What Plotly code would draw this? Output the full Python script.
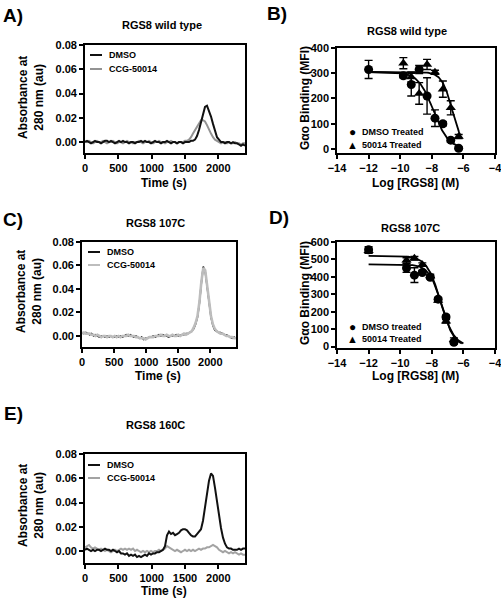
import numpy as np
import plotly.graph_objects as go

# ---------------- data ----------------
time_s = list(range(0, 2401, 30))

a_dmso = [0.000, 0.001, 0.000, -0.001, 0.000, 0.001, 0.000, 0.000, -0.001, 0.000,
          0.001, 0.001, 0.000, 0.001, 0.000, -0.001, 0.000, 0.001, 0.000, 0.001,
          0.000, 0.000, -0.001, 0.000, 0.000, -0.001, 0.000, 0.000, 0.001, 0.000,
          0.001, 0.000, 0.000, -0.001, 0.000, 0.001, 0.000, 0.000, -0.001, 0.000,
          0.000, 0.001, 0.000, -0.001, 0.000, 0.000, -0.001, 0.000, 0.000, -0.001,
          0.000, 0.000, 0.000, 0.001, 0.001, 0.002, 0.005, 0.010, 0.017, 0.024,
          0.029, 0.030, 0.026, 0.021, 0.015, 0.009, 0.004, 0.002, 0.000, 0.000,
          -0.001, 0.000, 0.000, -0.001, 0.000, -0.001, -0.001, -0.002, -0.003, -0.002,
          -0.003]
a_ccg = [0.001, 0.000, 0.001, 0.000, -0.001, 0.000, 0.001, 0.000, 0.000, 0.001,
         0.000, -0.001, 0.000, 0.000, 0.001, 0.000, -0.001, 0.000, 0.000, -0.001,
         0.000, 0.001, 0.000, 0.000, -0.001, 0.000, 0.000, 0.001, 0.000, -0.001,
         0.000, 0.000, 0.001, 0.000, -0.001, 0.000, 0.000, 0.001, 0.000, 0.000,
         -0.001, 0.000, 0.000, 0.001, 0.000, 0.000, -0.001, 0.000, 0.000, 0.000,
         0.001, 0.001, 0.002, 0.004, 0.007, 0.010, 0.013, 0.016, 0.018, 0.018,
         0.017, 0.014, 0.010, 0.007, 0.004, 0.002, 0.001, 0.000, -0.001, 0.000,
         0.000, -0.001, 0.000, -0.001, -0.001, 0.000, -0.001, -0.001, -0.002, -0.001,
         -0.001]

c_dmso = [0.003, 0.002, 0.003, 0.002, 0.001, 0.002, 0.000, 0.001, 0.000, -0.001,
          0.000, 0.000, -0.001, 0.000, -0.001, 0.000, -0.001, -0.001, 0.000, -0.001,
          0.000, -0.001, 0.000, 0.001, 0.000, 0.001, 0.000, -0.001, 0.000, -0.001,
          -0.002, -0.001, -0.003, -0.002, -0.002, -0.001, -0.001, 0.000, -0.001, 0.000,
          0.001, 0.000, 0.001, 0.000, 0.000, -0.001, 0.000, 0.000, 0.000, 0.001,
          0.000, 0.001, 0.001, 0.001, 0.002, 0.002, 0.003, 0.004, 0.006, 0.010,
          0.016, 0.028, 0.045, 0.059, 0.055, 0.041, 0.027, 0.016, 0.009, 0.005,
          0.004, 0.003, 0.003, 0.002, 0.001, 0.001, 0.000, -0.001, -0.002, -0.001,
          -0.002]
c_ccg = [0.002, 0.003, 0.002, 0.002, 0.002, 0.001, 0.001, 0.000, 0.001, 0.000,
         -0.001, 0.000, 0.000, -0.001, 0.000, 0.000, -0.001, 0.000, -0.001, 0.000,
         -0.001, 0.000, 0.000, 0.000, 0.001, 0.000, 0.000, 0.000, -0.001, -0.001,
         -0.002, -0.002, -0.002, -0.003, -0.002, -0.001, -0.001, -0.001, 0.000, 0.000,
         0.000, 0.001, 0.000, 0.000, 0.001, 0.000, 0.000, 0.001, 0.000, 0.000,
         0.001, 0.000, 0.001, 0.002, 0.001, 0.002, 0.003, 0.004, 0.007, 0.011,
         0.017, 0.029, 0.046, 0.058, 0.056, 0.042, 0.028, 0.017, 0.010, 0.006,
         0.004, 0.003, 0.002, 0.002, 0.001, 0.000, 0.000, -0.001, -0.001, -0.002,
         -0.002]

e_dmso = [0.001, 0.002, 0.001, 0.000, 0.001, 0.000, 0.001, 0.001, 0.000, 0.001,
          0.002, 0.001, 0.001, 0.000, 0.001, 0.000, -0.001, 0.000, -0.002, -0.002,
          -0.003, -0.002, -0.004, -0.003, -0.004, -0.003, -0.005, -0.004, -0.005, -0.004,
          -0.003, -0.004, -0.002, -0.003, -0.002, -0.002, -0.001, -0.001, 0.000, 0.001,
          0.004, 0.013, 0.016, 0.014, 0.015, 0.013, 0.014, 0.015, 0.017, 0.018,
          0.018, 0.017, 0.015, 0.013, 0.012, 0.012, 0.014, 0.016, 0.018, 0.025,
          0.035, 0.047, 0.058, 0.064, 0.062, 0.052, 0.040, 0.030, 0.019, 0.011,
          0.006, 0.003, 0.002, 0.002, 0.001, 0.001, 0.001, 0.002, 0.001, 0.002,
          0.002]
e_ccg = [0.003, 0.004, 0.005, 0.003, 0.002, 0.003, 0.002, 0.001, 0.002, 0.001,
         0.000, 0.001, 0.000, -0.001, 0.000, 0.001, 0.000, 0.001, 0.002, 0.001,
         0.002, 0.001, 0.002, 0.001, 0.002, 0.000, 0.001, 0.000, -0.001, 0.000,
         -0.001, 0.000, -0.001, 0.000, -0.001, 0.000, 0.000, 0.001, 0.000, 0.001,
         0.002, 0.004, 0.003, 0.002, 0.001, 0.000, 0.001, 0.000, -0.001, 0.000,
         0.001, 0.000, 0.001, 0.000, 0.001, 0.000, 0.001, 0.002, 0.001, 0.002,
         0.002, 0.003, 0.003, 0.004, 0.005, 0.004, 0.003, 0.001, 0.000, -0.001,
         0.000, -0.001, -0.002, -0.001, -0.002, -0.001, -0.002, -0.003, -0.002, -0.003,
         -0.003]

# Panel B: RGS8 wild type binding
b_dmso_logc = [-12, -9.8, -9.3, -8.8, -8.3, -7.8, -7.3, -6.8, -6.3]
b_dmso_mfi = [315, 290, 255, 315, 210, 122, 100, 35, 3]
b_dmso_err = [36, 8, 45, 16, 72, 33, 8, 8, 5]
b_cmpd_logc = [-9.8, -9.3, -8.8, -8.3, -7.8, -7.3, -6.8, -6.3]
b_cmpd_mfi = [340, 285, 220, 335, 304, 237, 163, 49]
b_cmpd_err = [22, 20, 43, 20, 8, 32, 28, 8]
b_dmso_fit = [305, 0, -7.9, 0.9]      # top, bottom, logIC50, hill
b_cmpd_fit = [305, 0, -6.7, 1.3]

# Panel D: RGS8 107C binding
d_dmso_logc = [-12, -9.6, -9.1, -8.6, -8.1, -7.6, -7.1, -6.6]
d_dmso_mfi = [555, 451, 410, 425, 398, 272, 170, 25]
d_dmso_err = [18, 25, 42, 10, 10, 10, 10, 10]
d_cmpd_logc = [-12, -9.6, -9.1, -8.6, -8.1, -7.6, -7.1, -6.6]
d_cmpd_mfi = [550, 495, 507, 470, 405, 265, 145, 40]
d_cmpd_err = [15, 15, 10, 10, 10, 10, 10, 10]
d_dmso_fit = [472, 0, -7.38, 1.1]
d_cmpd_fit = [520, 0, -7.45, 1.0]

FONT = "Arial, 'Liberation Sans', sans-serif"
W, H = 501, 600


def fit_curve(params, lo, hi):
    top, bottom, logic50, hill = params
    xs = np.linspace(lo, hi, 200)
    return xs, bottom + (top - bottom) / (1 + 10 ** ((xs - logic50) * hill))


fig = go.Figure()

# --- chromatograms ---
for xa, ya, d, c, gcol, gw, bw in [("x", "y", a_dmso, a_ccg, "#939393", 2.0, 2.0),
                                   ("x3", "y3", c_dmso, c_ccg, "#bdbdbd", 2.6, 1.6),
                                   ("x5", "y5", e_dmso, e_ccg, "#a3a3a3", 2.0, 2.0)]:
    if xa == "x3":
        fig.add_trace(go.Scatter(x=time_s, y=d, mode="lines", xaxis=xa, yaxis=ya,
                                 line=dict(color="#111", width=bw)))
        fig.add_trace(go.Scatter(x=time_s, y=c, mode="lines", xaxis=xa, yaxis=ya,
                                 line=dict(color=gcol, width=gw)))
    else:
        fig.add_trace(go.Scatter(x=time_s, y=c, mode="lines", xaxis=xa, yaxis=ya,
                                 line=dict(color=gcol, width=gw)))
        fig.add_trace(go.Scatter(x=time_s, y=d, mode="lines", xaxis=xa, yaxis=ya,
                                 line=dict(color="#111", width=bw)))

# --- dose response ---
for xa, ya, dx, dy, de, cx, cy, ce, dfit, cfit, dend, cend in [
        ("x2", "y2", b_dmso_logc, b_dmso_mfi, b_dmso_err, b_cmpd_logc, b_cmpd_mfi, b_cmpd_err,
         b_dmso_fit, b_cmpd_fit, -6.3, -6.2),
        ("x4", "y4", d_dmso_logc, d_dmso_mfi, d_dmso_err, d_cmpd_logc, d_cmpd_mfi, d_cmpd_err,
         d_dmso_fit, d_cmpd_fit, -6.1, -6.0)]:
    fx, fy = fit_curve(dfit, -12, dend)
    fig.add_trace(go.Scatter(x=fx, y=fy, mode="lines", xaxis=xa, yaxis=ya,
                             line=dict(color="#000", width=1.8)))
    fx, fy = fit_curve(cfit, -12, cend)
    fig.add_trace(go.Scatter(x=fx, y=fy, mode="lines", xaxis=xa, yaxis=ya,
                             line=dict(color="#000", width=1.8)))
    fig.add_trace(go.Scatter(x=cx, y=cy, mode="markers", xaxis=xa, yaxis=ya,
                             marker=dict(symbol="triangle-up", size=9, color="#000"),
                             error_y=dict(type="data", array=ce, color="#000", thickness=1.4, width=4)))
    fig.add_trace(go.Scatter(x=dx, y=dy, mode="markers", xaxis=xa, yaxis=ya,
                             marker=dict(symbol="circle", size=9, color="#000"),
                             error_y=dict(type="data", array=de, color="#000", thickness=1.4, width=4)))


def dom_x(a, b):
    return [a / W, b / W]


def dom_y(top, bottom):
    return [1 - bottom / H, 1 - top / H]


axis_common = dict(showline=True, linecolor="#000", linewidth=1.6, mirror=True,
                   ticks="outside", ticklen=4, tickwidth=1.6, tickcolor="#000",
                   showgrid=False, zeroline=False, automargin=False,
                   ticklabeloverflow="allow",
                   tickfont=dict(family=FONT, size=11, color="#000", weight="bold"))

time_axis = dict(range=[0, 2400], tickvals=[0, 500, 1000, 1500, 2000], **axis_common)
log_axis = dict(range=[-14, -4], tickvals=[-14, -12, -10, -8, -6, -4], **axis_common)
abs_ticks = [0.0, 0.02, 0.04, 0.06, 0.08]

fig.update_layout(
    template="none",
    width=W, height=H, margin=dict(l=0, r=0, t=0, b=0, pad=0, autoexpand=False),
    paper_bgcolor="white", plot_bgcolor="white", showlegend=False,
    xaxis=dict(domain=dom_x(85, 245), anchor="y", **time_axis),
    yaxis=dict(domain=dom_y(45, 153), anchor="x", range=[-0.009, 0.08], tickvals=abs_ticks,
               tickformat=".2f", **axis_common),
    xaxis2=dict(domain=dom_x(337, 495), anchor="y2", **log_axis),
    yaxis2=dict(domain=dom_y(48, 153), anchor="x2", range=[-16, 400],
                tickvals=[0, 100, 200, 300, 400], **axis_common),
    xaxis3=dict(domain=dom_x(82, 236), anchor="y3", **time_axis),
    yaxis3=dict(domain=dom_y(242, 347), anchor="x3", range=[-0.0094, 0.08], tickvals=abs_ticks,
                tickformat=".2f", **axis_common),
    xaxis4=dict(domain=dom_x(337, 495), anchor="y4", **log_axis),
    yaxis4=dict(domain=dom_y(242, 348), anchor="x4", range=[-8, 600],
                tickvals=[0, 100, 200, 300, 400, 500, 600], **axis_common),
    xaxis5=dict(domain=dom_x(85, 245), anchor="y5", **time_axis),
    yaxis5=dict(domain=dom_y(454, 563), anchor="x5", range=[-0.0099, 0.08], tickvals=abs_ticks,
                tickformat=".2f", **axis_common),
)


def ann(text, px, py, size, angle=0, xanchor="center", color="#000"):
    fig.add_annotation(text=text, x=px / W, y=1 - py / H, xref="paper", yref="paper",
                       showarrow=False, xanchor=xanchor, yanchor="middle", textangle=angle,
                       font=dict(family=FONT, size=size, color=color, weight="bold"))


# panel letters
for lab, px, py in [("A)", 13, 15), ("B)", 277, 14), ("C)", 13, 219), ("D)", 279, 217), ("E)", 13, 414)]:
    ann(lab, px, py, 19)

# titles
ann("RGS8 wild type", 162, 25, 11)
ann("RGS8 wild type", 407, 31, 11)
ann("RGS8 107C", 155, 223, 11)
ann("RGS8 107C", 410, 228, 11)
ann("RGS8 160C", 155, 425, 11)

# axis titles
ann("Time (s)", 164, 183, 12)
ann("Time (s)", 158, 376, 12)
ann("Time (s)", 164, 591, 12)
ann("Log [RGS8] (M)", 415, 183, 12)
ann("Log [RGS8] (M)", 415, 376, 12)
ann("Absorbance at<br>280 nm (au)", 31, 98, 12, angle=-90)
ann("Absorbance at<br>280 nm (au)", 29, 292, 12, angle=-90)
ann("Absorbance at<br>280 nm (au)", 31, 506, 12, angle=-90)
ann("G\u03b1o Binding (MFI)", 305, 98, 12, angle=-90)
ann("G\u03b1o Binding (MFI)", 305, 293, 12, angle=-90)

# legends for chromatograms (key line + label)
for y1, y2, x0, gcol in [(55, 69, 90, "#939393"), (252, 265, 88, "#bdbdbd"), (465, 478, 88, "#a3a3a3")]:
    fig.add_shape(type="line", xref="paper", yref="paper", x0=x0 / W, x1=(x0 + 12) / W,
                  y0=1 - y1 / H, y1=1 - y1 / H, line=dict(color="#111", width=2))
    fig.add_shape(type="line", xref="paper", yref="paper", x0=x0 / W, x1=(x0 + 12) / W,
                  y0=1 - y2 / H, y1=1 - y2 / H, line=dict(color=gcol, width=2))
    ann("DMSO", x0 + 17, y1, 9, xanchor="left")
    ann("CCG-50014", x0 + 17, y2, 9, xanchor="left")

# legends for binding plots
for y1, y2, lab1 in [(132, 145, "DMSO Treated"), (327, 339, "DMSO treated")]:
    ann("\u25cf", 352, y1, 12)
    ann("\u25b2", 352, y2, 11)
    ann(lab1, 360, y1, 9, xanchor="left")
    ann("50014 Treated", 360, y2, 9, xanchor="left")

fig.write_html("out.html", config={"displayModeBar": False},
               post_script="document.body.style.margin='0';document.body.style.overflow='hidden';")
